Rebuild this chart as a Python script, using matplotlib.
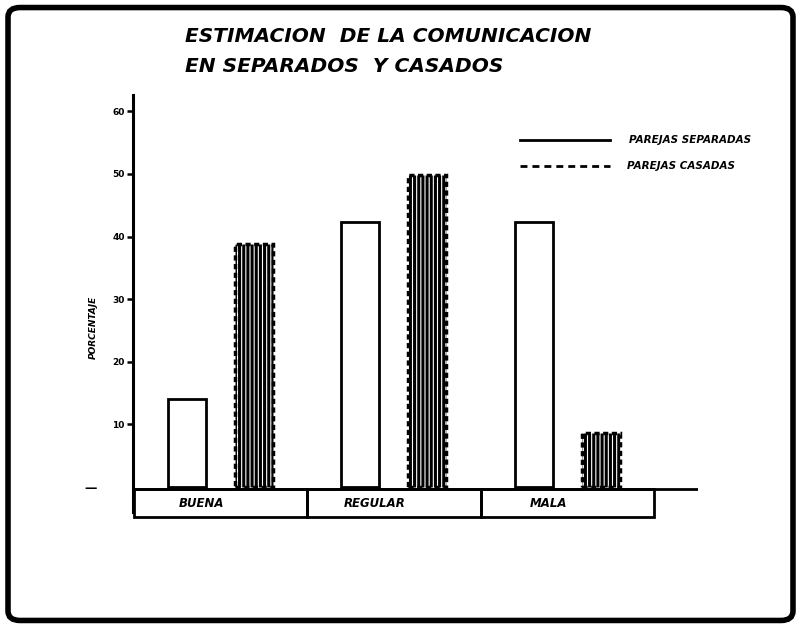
import matplotlib.pyplot as plt
from matplotlib.patches import FancyBboxPatch, Rectangle
import numpy as np

categorias = ['BUENA', 'REGULAR', 'MALA']
separadas = [14, 42.3, 42.3]
casadas = [38.8, 49.8, 8.6]
yticks = [10, 20, 30, 40, 50, 60]

plt.rcParams['font.family'] = ['DejaVu Sans']
plt.rcParams['hatch.linewidth'] = 2.2

fig = plt.figure(figsize=(8.01, 6.28), dpi=100)
fig.patch.set_facecolor('white')

# marco negro redondeado del escaneo
frame = FancyBboxPatch((0.01, 0.012), 0.98, 0.976, boxstyle='round,pad=0,rounding_size=0.015',
                       transform=fig.transFigure, fill=False, lw=4, ec='black')
fig.patches.append(frame)

ax = fig.add_axes([133 / 801, (628 - 517) / 628, 565 / 801, 422 / 628])
ax.set_xlim(-0.504, 2.752)
ax.set_ylim(-4.8, 62.6)
ax.patch.set_alpha(0)

x = np.arange(len(categorias))
w = 0.219
ax.bar(x - 0.193, separadas, w, color='white', edgecolor='black', lw=2)
ax.bar(x + 0.193, casadas, w, color='white', edgecolor='black', lw=2.5,
       linestyle=(0, (1.5, 1)), hatch='||||')

for s in ['top', 'right', 'bottom']:
    ax.spines[s].set_visible(False)
ax.spines['left'].set_linewidth(2.2)
ax.spines['left'].set_bounds(-4, 62.6)
ax.axhline(-0.4, xmin=0, xmax=1, color='black', lw=2)

# caja de categorias
for i, c in enumerate(categorias):
    ax.add_patch(Rectangle((i - 0.5, -4.8), 1.0, 4.4, fill=False, ec='black', lw=2, clip_on=False))
    ax.text(i - 0.11, -2.6, c, ha='center', va='center', fontsize=8.5, fontweight='heavy',
            fontstyle='italic')

ax.set_xticks([])
ax.set_yticks(yticks)
ax.set_yticklabels([str(t) for t in yticks], fontsize=6.5, fontweight='heavy')
ax.tick_params(axis='y', length=4, width=1.8, pad=2)
ax.text(-0.75, -0.2, '—', ha='center', va='center', fontsize=9, fontweight='bold')

ax.set_ylabel('PORCENTAJE', fontsize=6.5, fontweight='heavy', fontstyle='italic')
ax.yaxis.set_label_coords(-0.062, 0.45)

# leyenda dibujada a mano
fig.add_artist(plt.Line2D([520 / 801, 610 / 801], [1 - 140 / 628] * 2, color='black', lw=2))
fig.add_artist(plt.Line2D([520 / 801, 610 / 801], [1 - 166 / 628] * 2, color='black', lw=2,
                          linestyle=(0, (2.5, 1.8))))
fig.text(629 / 801, 1 - 140 / 628, 'PAREJAS SEPARADAS', fontsize=7.5, fontweight='heavy',
         fontstyle='italic', va='center')
fig.text(627 / 801, 1 - 166 / 628, 'PAREJAS CASADAS', fontsize=7.5, fontweight='heavy',
         fontstyle='italic', va='center')

fig.text(185 / 801, 1 - 36 / 628, 'ESTIMACION  DE LA COMUNICACION', fontsize=14.5,
         fontweight='bold', fontstyle='italic', va='center')
fig.text(185 / 801, 1 - 66 / 628, 'EN SEPARADOS  Y CASADOS', fontsize=14.5,
         fontweight='bold', fontstyle='italic', va='center')

fig.savefig('out.png', dpi=100)
